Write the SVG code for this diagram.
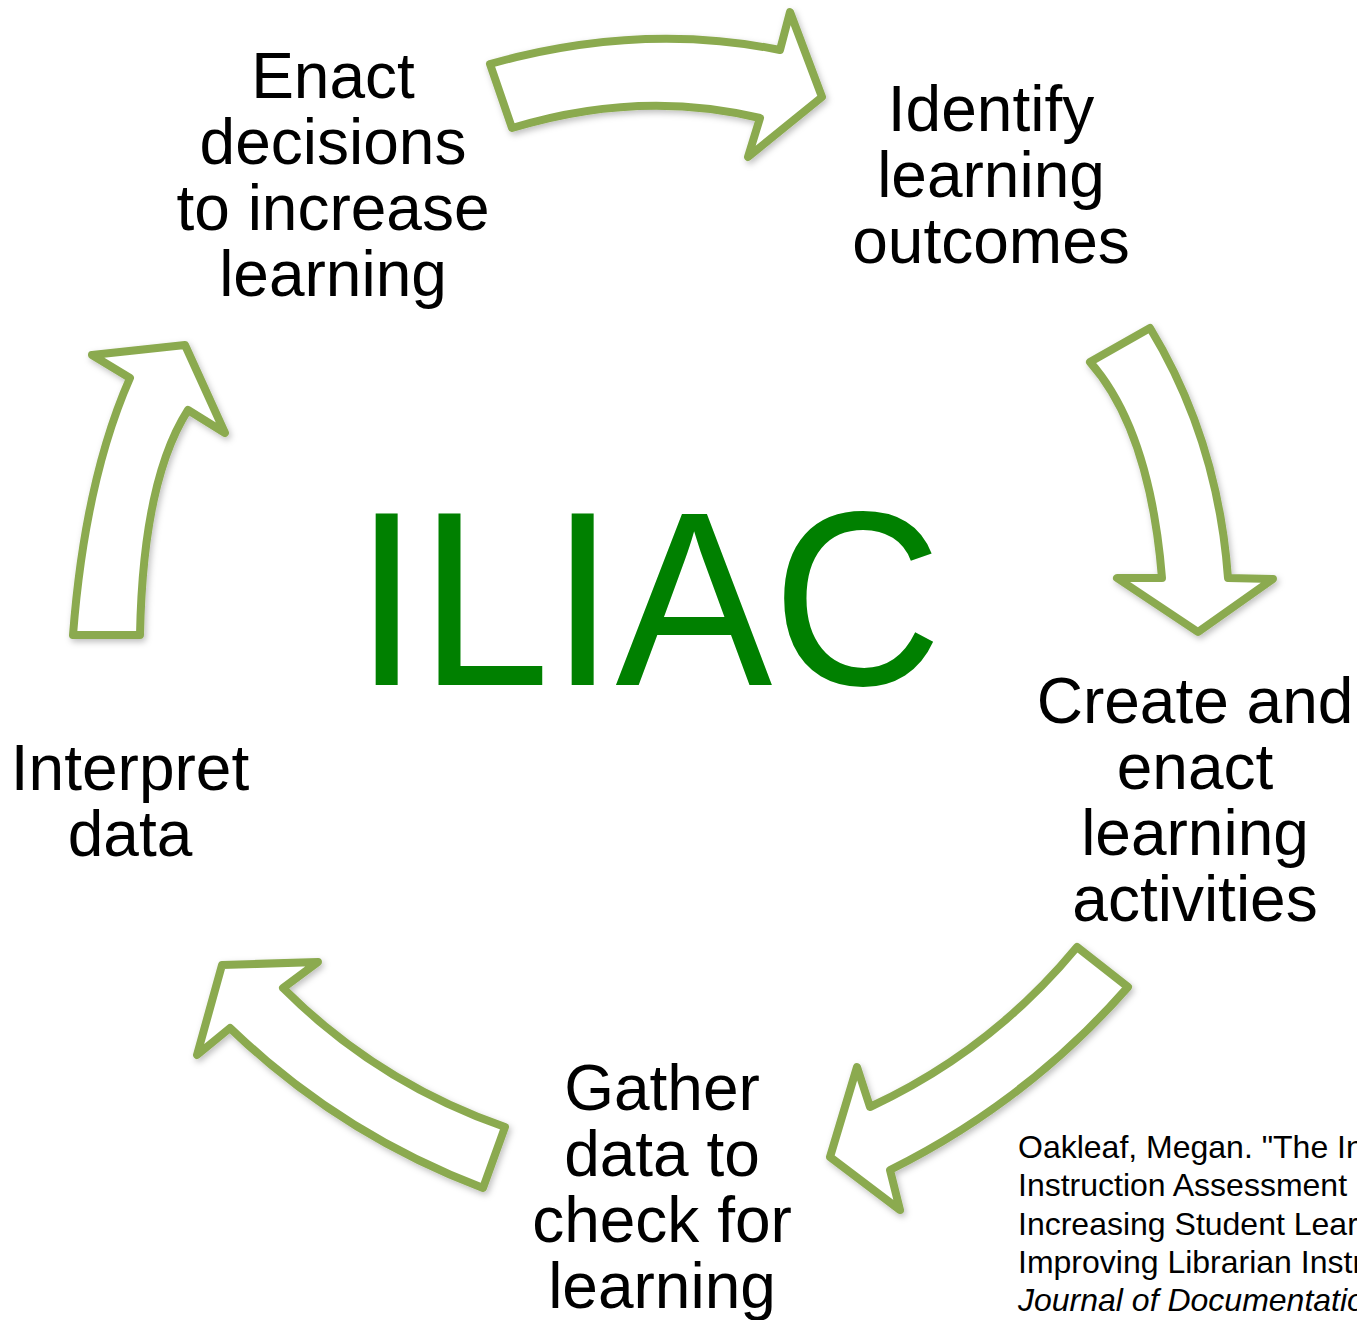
<svg xmlns="http://www.w3.org/2000/svg" width="1357" height="1320" viewBox="0 0 1357 1320">
  <style>
    .arrow { fill: #ffffff; stroke: #8BAA50; stroke-width: 8; stroke-linejoin: round; filter: url(#soft); }
    .step { font-family: "Liberation Sans", Arial, sans-serif; font-size: 64px; fill: #000000; text-anchor: middle; }
    .title { font-family: "Liberation Sans", Arial, sans-serif; font-size: 238px; fill: #008000; text-anchor: middle; }
    .cite { font-family: "Liberation Sans", Arial, sans-serif; font-size: 32px; fill: #000000; }
  </style>
  <defs>
    <filter id="soft" x="-10%" y="-10%" width="130%" height="130%">
      <feDropShadow dx="2" dy="3" stdDeviation="3" flood-color="#000000" flood-opacity="0.25"/>
    </filter>
    <clipPath id="page">
      <rect x="0" y="0" width="1357" height="1320"/>
    </clipPath>
  </defs>
  <rect width="1357" height="1320" fill="#ffffff"/>

  <!-- curved block arrows linking the cycle steps -->
  <g id="connectors">
    <path class="arrow" d="M 490,64 Q 640,22 780,50 L 790,12 L 822,97 L 748,157 L 760,118 Q 640,89 512,128 Z"/>
    <path class="arrow" d="M 1090,362 L 1150,328 Q 1218,440 1228,578 L 1273,579 L 1198,632 L 1117,578 L 1162,578 Q 1150,430 1090,362 Z"/>
    <path class="arrow" d="M 1077,947 L 1128,987 Q 1027,1102 890,1170 L 900,1210 L 830,1157 L 857,1067 L 870,1107 Q 991,1051 1077,947 Z"/>
    <path class="arrow" d="M 505,1127 L 483,1188 Q 340,1134 230,1028 L 197,1055 L 222,965 L 318,962 L 283,988 Q 378,1083 505,1127 Z"/>
    <path class="arrow" d="M 73,635 L 140,635 Q 143,480 188,410 L 225,433 L 185,345 L 92,355 L 130,378 Q 85,480 73,635 Z"/>
  </g>

  <g id="title">
    <text class="title" transform="translate(648,685) scale(0.988,1.045)" x="0" y="0">ILIAC</text>
  </g>

  <g id="enact-decisions">
    <text class="step" x="333" y="98">Enact</text>
    <text class="step" x="333" y="164">decisions</text>
    <text class="step" x="333" y="230">to increase</text>
    <text class="step" x="333" y="296">learning</text>
  </g>

  <g id="identify-outcomes">
    <text class="step" x="991" y="131">Identify</text>
    <text class="step" x="991" y="197">learning</text>
    <text class="step" x="991" y="263">outcomes</text>
  </g>

  <g id="create-activities">
    <text class="step" x="1195" y="723">Create and</text>
    <text class="step" x="1195" y="789">enact</text>
    <text class="step" x="1195" y="855">learning</text>
    <text class="step" x="1195" y="921">activities</text>
  </g>

  <g id="gather-data">
    <text class="step" x="662" y="1110">Gather</text>
    <text class="step" x="662" y="1176">data to</text>
    <text class="step" x="662" y="1242">check for</text>
    <text class="step" x="662" y="1308">learning</text>
  </g>

  <g id="interpret-data">
    <text class="step" x="130" y="790">Interpret</text>
    <text class="step" x="130" y="856">data</text>
  </g>

  <g id="citation" clip-path="url(#page)">
    <text class="cite" x="1018" y="1158">Oakleaf, Megan. "The In</text>
    <text class="cite" x="1018" y="1196">Instruction Assessment C</text>
    <text class="cite" x="1018" y="1235">Increasing Student Learn</text>
    <text class="cite" x="1018" y="1273">Improving Librarian Instru</text>
    <text class="cite" x="1018" y="1311" font-style="italic">Journal of Documentation</text>
  </g>
</svg>
